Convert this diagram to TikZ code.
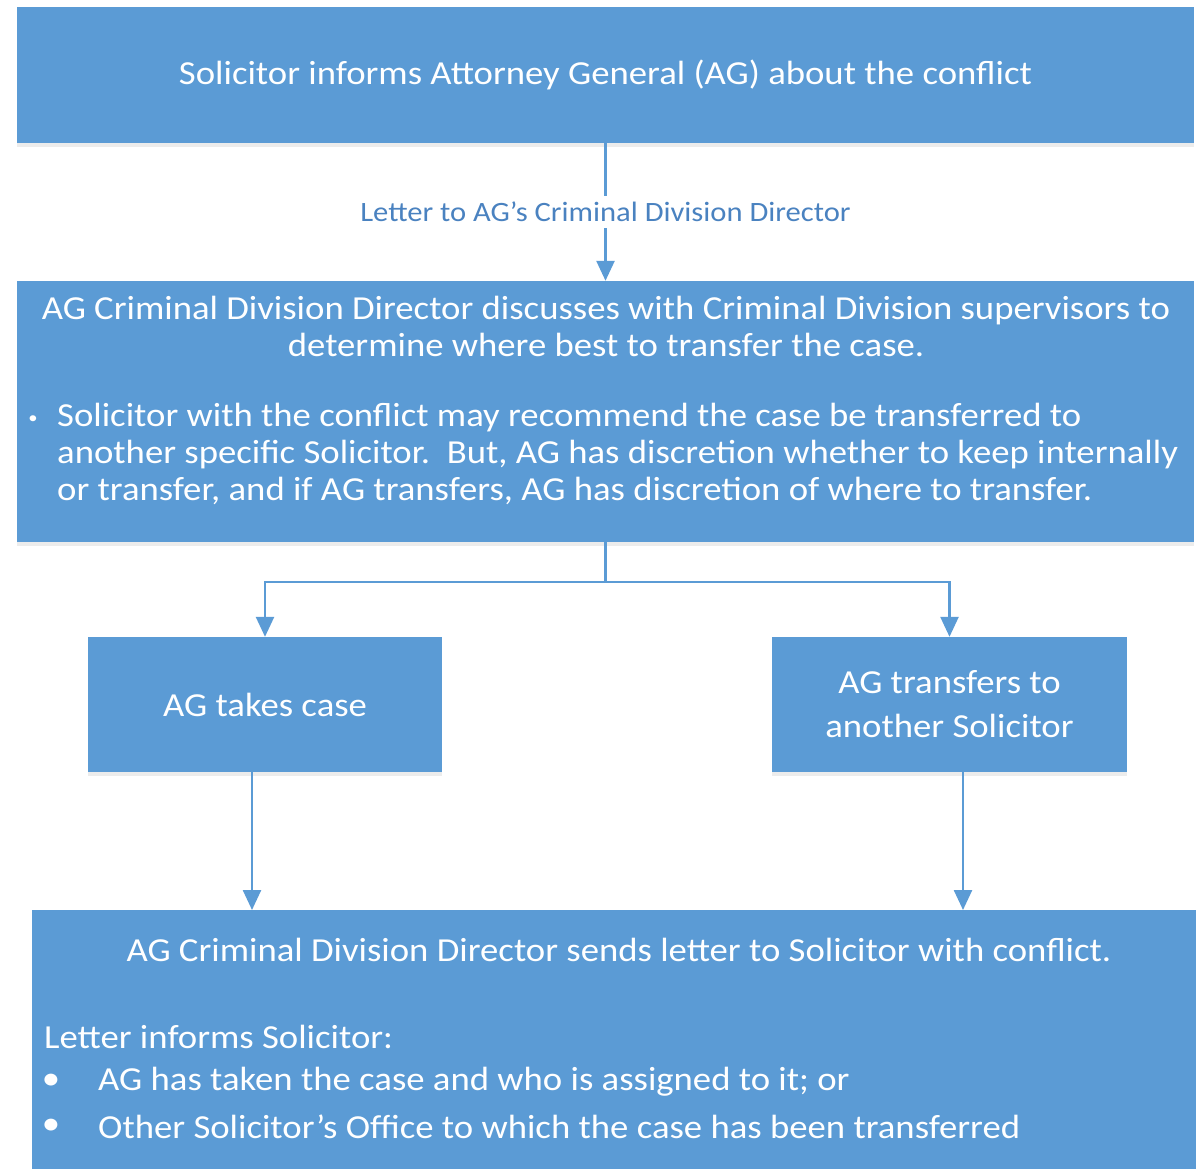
\documentclass[tikz,border=0pt]{standalone}
\usepackage{fontspec}
\setmainfont{Carlito}[FakeStretch=1.093]
\usetikzlibrary{arrows.meta,calc,shadows}
\definecolor{boxblue}{HTML}{5B9BD5}
\definecolor{lblblue}{HTML}{4A82C0}
\begin{document}
\begin{tikzpicture}[x=1pt,y=-1pt,
  box/.style={draw=none, fill=boxblue, inner sep=0pt, text=white,
    font=\fontsize{33.6}{37}\selectfont, align=center,
    drop shadow={shadow xshift=0pt, shadow yshift=-4pt, opacity=0.12, fill=black!60}},
  txt/.style={text=white, font=\fontsize{33.6}{37}\selectfont, inner sep=0pt},
  conn/.style={draw=boxblue, line width=2.5pt},
  arr/.style={conn, -{Triangle[width=18pt,length=20pt]}},
  lbl/.style={fill=white, text=lblblue, font=\fontsize{28}{32}\selectfont, inner sep=6pt}]
\useasboundingbox (0,0) rectangle (1196,1168);
\clip (0,0) rectangle (1196,1168);

% boxes
\node[box, minimum width=1177pt, minimum height=136pt] (b1) at (605.5,75)
  {Solicitor informs Attorney General (AG) about the conflict};
\node[box, minimum width=1177pt, minimum height=261pt] (b2) at (605.5,411.5) {};
\node[box, minimum width=354pt, minimum height=135pt] (b3) at (265,704.5) {AG takes case};
\node[box, minimum width=355pt, minimum height=135pt, font=\fontsize{33.6}{44}\selectfont] (b4) at (949.5,704.5)
  {AG transfers to\\another Solicitor};
\node[box, minimum width=1172pt, minimum height=270pt, anchor=north west] (b5) at (32,910) {};

% texts of box 2
\node[txt, align=center] (b2a) at (606,326.5)
  {AG Criminal Division Director discusses with Criminal Division supervisors to\\
   determine where best to transfer the case.};
\node[txt, font=\fontsize{17}{17}\selectfont] (b2dot) at (33,420) {\textbullet};
\node[txt, anchor=west, align=left] (b2b) at (57,453.5)
  {Solicitor with the conflict may recommend the case be transferred to\\
   another specific Solicitor.\ \ But, AG has discretion whether to keep internally\\
   or transfer, and if AG transfers, AG has discretion of where to transfer.};

% texts of box 5
\node[txt] (b5a) at (619,950)
  {AG Criminal Division Director sends letter to Solicitor with conflict.};
\node[txt, anchor=west] (b5b) at (44,1037) {Letter informs Solicitor:};
\node[txt] (b5dot1) at (51,1082) {\textbullet};
\node[txt, anchor=west] (b5c) at (98,1082) {AG has taken the case and who is assigned to it; or};
\node[txt] (b5dot2) at (51,1127) {\textbullet};
\node[txt, anchor=west] (b5d) at (98,1127) {Other Solicitor’s Office to which the case has been transferred};

% connectors
\draw[arr] (b1.south) -- node[lbl] (l1) {Letter to AG’s Criminal Division Director} (b2.north);
\draw[conn] (b2.south) -- ++(0,40) coordinate (sp);
\draw[arr] (sp) -| (b3.north);
\draw[arr] (sp) -| (b4.north);
\draw[arr] ([xshift=-13pt]b3.south) -- ([xshift=-13pt]b3.south |- b5.north);
\draw[arr] ([xshift=13.5pt]b4.south) -- ([xshift=13.5pt]b4.south |- b5.north);
\end{tikzpicture}
\end{document}
